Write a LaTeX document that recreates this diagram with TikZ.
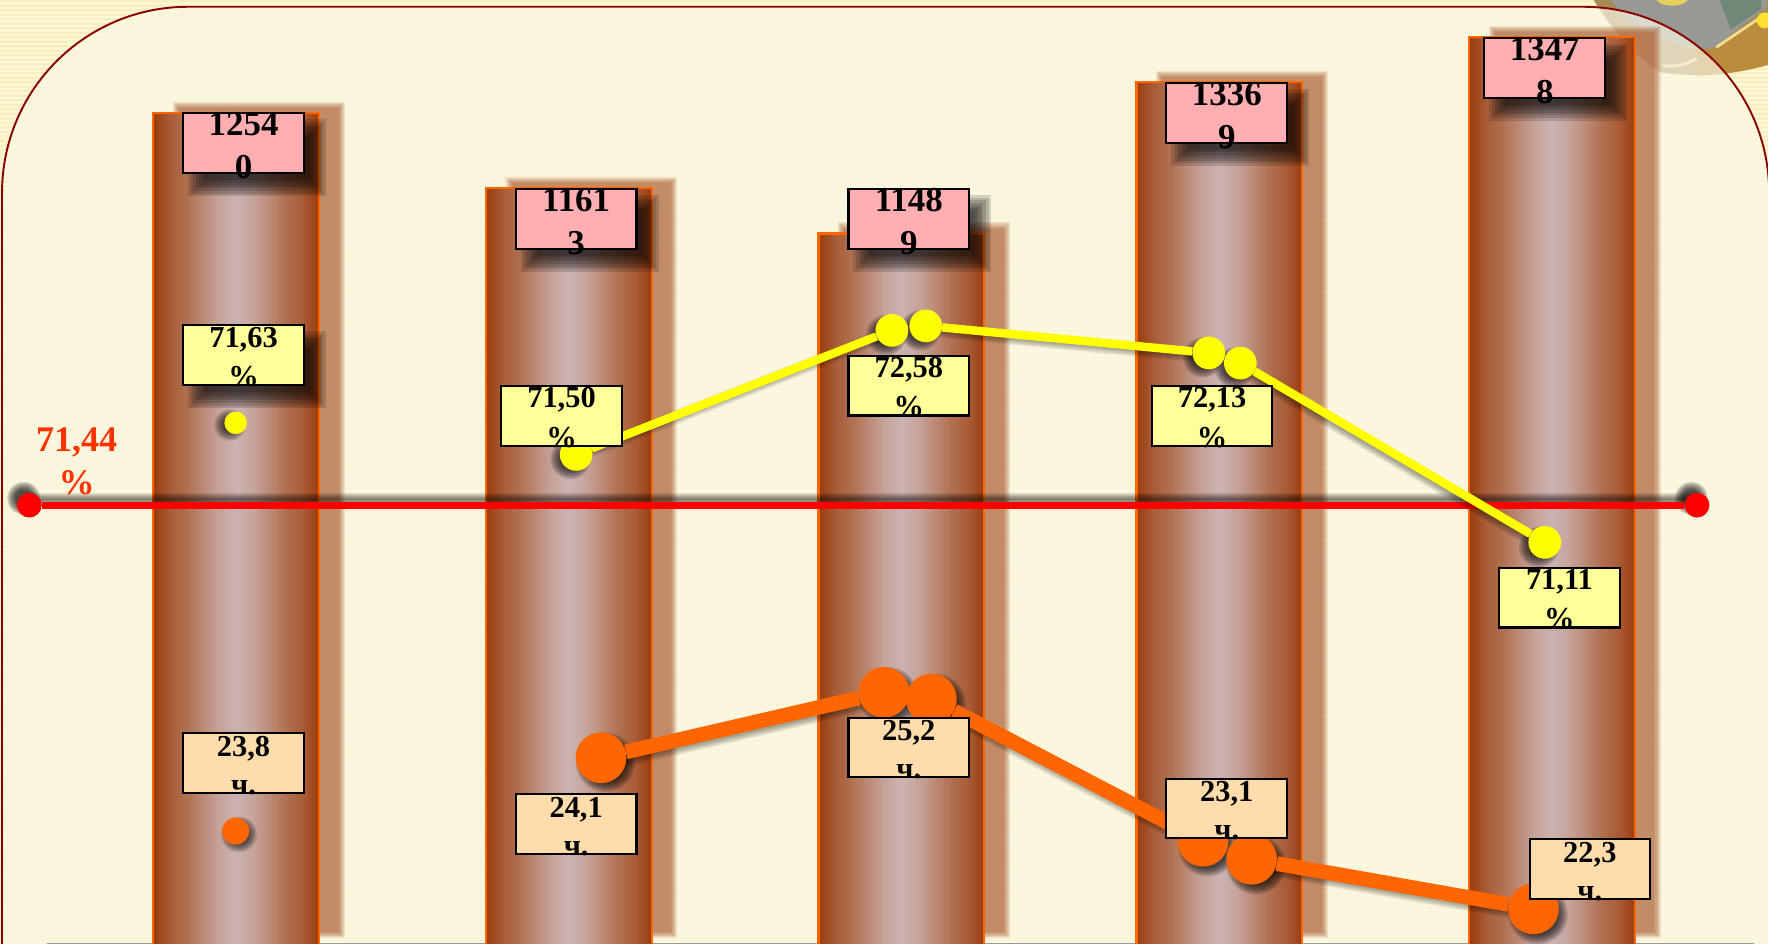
\documentclass[tikz,border=0pt]{standalone}
\usepackage{fontspec}
\setmainfont{Liberation Serif}
\definecolor{stripeA}{HTML}{FDF8DC}
\definecolor{stripeB}{HTML}{F8EEBC}
\definecolor{panelfill}{HTML}{FBF8E6}
\definecolor{panelline}{HTML}{8B0000}
\definecolor{barline}{HTML}{FF6600}
\definecolor{barshadow}{HTML}{9A3C0C}
\definecolor{pinkbox}{HTML}{FFAFB2}
\definecolor{yellowbox}{HTML}{FFFF99}
\definecolor{peachbox}{HTML}{FFDCAC}
\definecolor{redlabel}{HTML}{FF3300}
\definecolor{serieso}{HTML}{FF6600}
\definecolor{seriesy}{HTML}{FFFF00}
\definecolor{sa}{HTML}{9B3C0C}
\definecolor{sb}{HTML}{A85C38}
\definecolor{sc}{HTML}{B0704F}
\definecolor{sd}{HTML}{BC8A77}
\definecolor{se}{HTML}{C6A49B}
\definecolor{sf}{HTML}{CBB2B2}
\definecolor{bowlbase}{HTML}{A88C58}
\definecolor{bowlgrey}{HTML}{989894}
\definecolor{bowlgold}{HTML}{B88C3C}
\definecolor{bowlgreen}{HTML}{708878}
\definecolor{bowllight}{HTML}{EEDC90}
\definecolor{bowlbright}{HTML}{FFE030}
\definecolor{bowlorn}{HTML}{E8D060}
\pgfdeclarehorizontalshading{barshade}{100bp}{color(0bp)=(sa);color(25bp)=(sa);color(30bp)=(sb);color(35bp)=(sc);color(40bp)=(sd);color(45bp)=(se);color(50bp)=(sf);color(55bp)=(se);color(60bp)=(sd);color(65bp)=(sc);color(70bp)=(sb);color(75bp)=(sa);color(100bp)=(sa)}
% soft shadows: stacks of translucent shapes
\newcommand\softrect[7]{% x1 y1 x2 y2 colour layer-opacity step
  \foreach \k in {-3,...,3}{\fill[#5,opacity=#6] ({#1-\k*#7},{#2-\k*#7}) rectangle ({#3+\k*#7},{#4+\k*#7});}}
\newcommand\softdot[6]{% x y r colour layer-opacity step
  \foreach \k in {-3,...,3}{\fill[#4,opacity=#5] (#1,#2) circle ({(#3+\k*#6)*1pt});}}
\newcommand\softline[8]{% x1 y1 x2 y2 w colour layer-opacity step
  \foreach \k in {-3,...,3}{\draw[#6,opacity=#7,line cap=round,line width={(#5+2*\k*#8)*1pt}] (#1,#2) -- (#3,#4);}}
\newcommand\boxtext[3]{\raisebox{#1}[0pt][0pt]{\begin{tabular}{@{}c@{}}#2\\#3\end{tabular}}}
\newcommand\pinktext[2]{\boxtext{-11pt}{#1}{#2}}
\newcommand\yellowtext[2]{\boxtext{-9.5pt}{#1}{#2}}
\newcommand\peachtext[2]{\boxtext{-10pt}{#1}{#2}}
\tikzset{
  valbox/.style={draw=black,line width=1.8pt,inner sep=0pt,minimum width=107pt,minimum height=53pt,text=black},
  pinkval/.style={valbox,fill=pinkbox,font=\fontsize{31}{38}\selectfont\bfseries},
  yellowval/.style={valbox,fill=yellowbox,font=\fontsize{27}{35}\selectfont\bfseries},
  peachval/.style={valbox,fill=peachbox,font=\fontsize{27}{34}\selectfont\bfseries},
  ydot/.style={circle,fill=seriesy,inner sep=0pt,minimum size=29pt},
  odot/.style={circle,fill=serieso,inner sep=0pt,minimum size=45pt},
  rdot/.style={circle,fill=red,inner sep=0pt,minimum size=22pt},
  yline/.style={seriesy,line width=7.5pt},
  oline/.style={serieso,line width=13pt},
  rline/.style={red,line width=6pt},
  barbody/.style={shading=barshade,draw=barline,line width=2pt}
}
\newcommand\barshape[3]{% x1 x2 top
  \softrect{#1+20}{#3-7}{#2+20}{829}{barshadow}{0.108}{0.9}
  \shade[barbody] (#1,#3) rectangle (#2,842);}
\begin{document}
\begin{tikzpicture}[x=1pt,y=-1pt]
\useasboundingbox (0,0) rectangle (1568,837.2);
\clip (0,0) rectangle (1568,837.2);
% striped ground
\fill[stripeA] (0,0) rectangle (1568,838);
\fill[stripeB] \foreach \i in {0,4,...,836}{(0,\i) rectangle (1568,\i+2)};
% bowl ornament in the corner
\fill[bowlbase] (1412,-2) .. controls (1425,18) and (1440,42) .. (1472,64) .. controls (1500,69) and (1536,66) .. (1570,57) -- (1570,-2) -- cycle;
\fill[bowlgold] (1502,44) -- (1522,41) -- (1570,10) -- (1570,57) .. controls (1550,63) and (1525,67) .. (1502,67) -- cycle;
\fill[bowlgrey] (1428,-2) .. controls (1440,18) and (1460,32) .. (1487,38) .. controls (1500,44) and (1510,44) .. (1519,43) -- (1567,6) -- (1567,-2) -- cycle;
\fill[bowlgreen] (1525,0) -- (1562,0) -- (1562,8) -- (1535,26) -- cycle;
\draw[bowllight,line width=2.5pt] (1522,42) -- (1562,15);
\fill[bowlbright] (1565,18) circle (7pt);
\fill[bowlorn] (1483,-1) ellipse (14pt and 6pt);
\draw[bowllight,line width=2.5pt] (1475,58) .. controls (1485,60) and (1495,57) .. (1505,52);
% panel
\fill[panelfill,opacity=.68,rounded corners=165pt] (1.8,1200) -- (1.8,6) -- (1569,6) -- (1569,1200) -- cycle;
\draw[panelline,line width=1.7pt,rounded corners=165pt] (1.8,1200) -- (1.8,6) -- (1569,6) -- (1569,1200);
\draw[gray!80,line width=1.2pt] (42,836.6) -- (1556,836.6);
% bars
\barshape{136}{283}{100}
\barshape{431}{578}{167}
\barshape{726}{873}{207}
\barshape{1008}{1155}{73}
\barshape{1303}{1450}{33}
% shadows of the boxes
\softrect{174}{113}{282}{167}{black}{0.15}{2.4}
\softrect{469}{180}{577}{234}{black}{0.15}{2.4}
\softrect{764}{180}{872}{234}{black}{0.15}{2.4}
\softrect{1046}{86}{1154}{140}{black}{0.15}{2.4}
\softrect{1328}{46}{1436}{100}{black}{0.15}{2.4}
\softrect{174}{301}{282}{355}{black}{0.15}{2.4}
% level line
\softline{24}{443}{1505}{443}{6}{black}{0.09}{0.9}
\softdot{21}{442}{11}{black}{0.15}{1.2}
\softdot{1500}{442}{11}{black}{0.15}{1.2}
\node[rdot] (r1) at (26,448) {};
\node[rdot] (r2) at (1505,448) {};
\draw[rline] (r1) -- (r2);
% shadows of the yellow series
\softline{508}{406}{788}{296}{7}{black}{0.06}{0.9}
\softline{818}{292}{1069}{316}{7}{black}{0.06}{0.9}
\softline{1097}{325}{1367}{484}{7}{black}{0.06}{0.9}
\softdot{204}{377}{10}{black}{0.13}{1.3}
\softdot{506}{407}{14}{black}{0.13}{1.3}
\softdot{786}{297}{14}{black}{0.13}{1.3}
\softdot{816}{293}{14}{black}{0.13}{1.3}
\softdot{1067}{317}{14}{black}{0.13}{1.3}
\softdot{1095}{326}{14}{black}{0.13}{1.3}
\softdot{1365}{485}{14}{black}{0.13}{1.3}
% shadows of the orange series
\softline{535}{676}{786}{618}{12}{black}{0.06}{0.9}
\softline{828}{624}{1069}{750}{12}{black}{0.06}{0.9}
\softline{1112}{766}{1362}{810}{12}{black}{0.06}{0.9}
\softdot{212}{740}{12}{black}{0.13}{1.3}
\softdot{537}{676}{22.5}{black}{0.13}{1.3}
\softdot{788}{618}{22.5}{black}{0.13}{1.3}
\softdot{830}{624}{22.5}{black}{0.13}{1.3}
\softdot{1071}{751}{22.5}{black}{0.13}{1.3}
\softdot{1114}{767}{22.5}{black}{0.13}{1.3}
\softdot{1364}{811}{22.5}{black}{0.13}{1.3}
% yellow series
\node[ydot,minimum size=20pt] (y1) at (209,375) {};
\node[ydot] (y2) at (511,403) {};
\node[ydot] (y3) at (791,293) {};
\node[ydot] (y4) at (821,289) {};
\node[ydot] (y5) at (1072,313) {};
\node[ydot] (y6) at (1100,322) {};
\node[ydot] (y7) at (1370,481) {};
\draw[yline] (y2) -- (y3);
\draw[yline] (y4) -- (y5);
\draw[yline] (y6) -- (y7);
% orange series
\node[odot,minimum size=24pt] (o1) at (209,737) {};
\node[odot] (o2) at (533,672) {};
\node[odot] (o3) at (784,614) {};
\node[odot] (o4) at (826,620) {};
\node[odot] (o5) at (1067,746) {};
\node[odot] (o6) at (1110,762) {};
\node[odot] (o7) at (1360,806) {};
\draw[oline] (o2) -- (o3);
\draw[oline] (o4) -- (o5);
\draw[oline] (o6) -- (o7);
% totals
\node[pinkval] (p1) at (216,127) {\pinktext{1254}{0}};
\node[pinkval] (p2) at (511,194) {\pinktext{1161}{3}};
\node[pinkval] (p3) at (806,194) {\pinktext{1148}{9}};
\node[pinkval] (p4) at (1088,100) {\pinktext{1336}{9}};
\node[pinkval] (p5) at (1370,60) {\pinktext{1347}{8}};
% percentages
\node[yellowval] (v1) at (216,315) {\yellowtext{71,63}{\%}};
\node[yellowval] (v2) at (498,369) {\yellowtext{71,50}{\%}};
\node[yellowval] (v3) at (806,342) {\yellowtext{72,58}{\%}};
\node[yellowval] (v4) at (1075,369) {\yellowtext{72,13}{\%}};
\node[yellowval] (v5) at (1383,530) {\yellowtext{71,11}{\%}};
% hours
\node[peachval] (h1) at (216,677) {\peachtext{23,8}{ч.}};
\node[peachval] (h2) at (511,731) {\peachtext{24,1}{ч.}};
\node[peachval] (h3) at (806,663) {\peachtext{25,2}{ч.}};
\node[peachval] (h4) at (1088,717) {\peachtext{23,1}{ч.}};
\node[peachval] (h5) at (1410,771) {\peachtext{22,3}{ч.}};
% level label
\node[text=redlabel,font=\fontsize{32}{38}\selectfont\bfseries,align=center,inner sep=0pt] (lvl) at (68,409) {71,44\\\%};
\end{tikzpicture}
\end{document}
